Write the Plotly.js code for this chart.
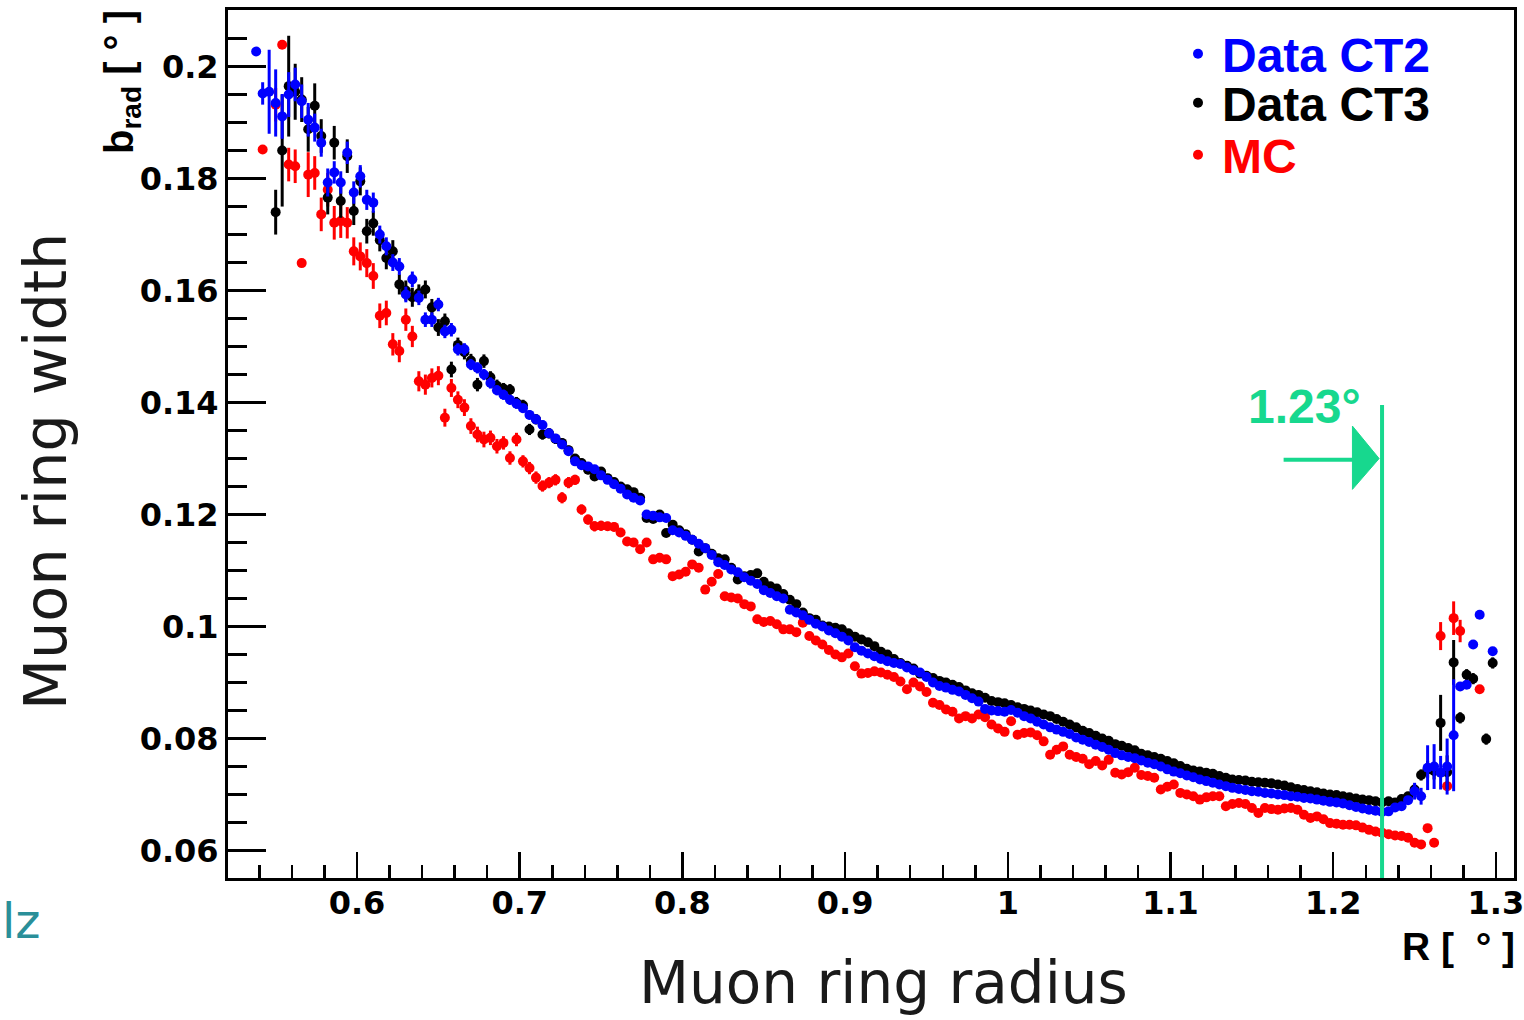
<!DOCTYPE html>
<html><head><meta charset="utf-8">
<script src="https://cdn.plot.ly/plotly-3.0.1.min.js"></script>
<style>html,body{margin:0;padding:0;background:#fff}#chart{width:1524px;height:1020px}</style>
</head><body><div id="chart"></div>
<script>
// Muon ring radius bin centres [deg]
const radius = [
0.538,0.542,0.546,0.550,0.554,0.558,0.562,0.566,0.570,0.574,
0.578,0.582,0.586,0.590,0.594,0.598,0.602,0.606,0.610,0.614,
0.618,0.622,0.626,0.630,0.634,0.638,0.642,0.646,0.650,0.654,
0.658,0.662,0.666,0.670,0.674,0.678,0.682,0.686,0.690,0.694,
0.698,0.702,0.706,0.710,0.714,0.718,0.722,0.726,0.730,0.734,
0.738,0.742,0.746,0.750,0.754,0.758,0.762,0.766,0.770,0.774,
0.778,0.782,0.786,0.790,0.794,0.798,0.802,0.806,0.810,0.814,
0.818,0.822,0.826,0.830,0.834,0.838,0.842,0.846,0.850,0.854,
0.858,0.862,0.866,0.870,0.874,0.878,0.882,0.886,0.890,0.894,
0.898,0.902,0.906,0.910,0.914,0.918,0.922,0.926,0.930,0.934,
0.938,0.942,0.946,0.950,0.954,0.958,0.962,0.966,0.970,0.974,
0.978,0.982,0.986,0.990,0.994,0.998,1.002,1.006,1.010,1.014,
1.018,1.022,1.026,1.030,1.034,1.038,1.042,1.046,1.050,1.054,
1.058,1.062,1.066,1.070,1.074,1.078,1.082,1.086,1.090,1.094,
1.098,1.102,1.106,1.110,1.114,1.118,1.122,1.126,1.130,1.134,
1.138,1.142,1.146,1.150,1.154,1.158,1.162,1.166,1.170,1.174,
1.178,1.182,1.186,1.190,1.194,1.198,1.202,1.206,1.210,1.214,
1.218,1.222,1.226,1.230,1.234,1.238,1.242,1.246,1.250,1.254,
1.258,1.262,1.266,1.270,1.274,1.278,1.282,1.286,1.290,1.294,
1.298];

// Data CT2 (blue)
const widthCT2 = [
0.2027,0.1952,0.1955,0.1935,0.1911,0.1950,0.1968,0.1938,0.1905,0.1891,
0.1864,0.1793,0.1811,0.1793,0.1846,0.1775,0.1804,0.1762,0.1757,0.1700,
0.1679,0.1650,0.1643,0.1593,0.1620,0.1587,0.1548,0.1548,0.1575,0.1527,
0.1530,0.1495,0.1495,0.1468,0.1462,0.1450,0.1435,0.1422,0.1414,0.1405,
0.1398,0.1390,0.1378,0.1370,0.1360,0.1345,0.1336,0.1325,0.1313,0.1295,
0.1288,0.1286,0.1281,0.1270,0.1262,0.1254,0.1246,0.1236,0.1230,0.1225,
0.1200,0.1198,0.1195,0.1194,0.1172,0.1168,0.1162,0.1155,0.1148,0.1140,
0.1128,0.1115,0.1110,0.1102,0.1097,0.1088,0.1082,0.1076,0.1065,0.1060,
0.1054,0.1050,0.1030,0.1025,0.1020,0.1012,0.1005,0.1000,0.0993,0.0988,
0.0982,0.0975,0.0963,0.0957,0.0952,0.0947,0.0942,0.0938,0.0935,0.0933,
0.0927,0.0922,0.0918,0.0910,0.0900,0.0894,0.0891,0.0887,0.0884,0.0878,
0.0872,0.0866,0.0853,0.0850,0.0849,0.0848,0.0851,0.0846,0.0840,0.0836,
0.0830,0.0825,0.0820,0.0816,0.0812,0.0808,0.0802,0.0798,0.0794,0.0789,
0.0785,0.0780,0.0774,0.0770,0.0767,0.0765,0.0761,0.0757,0.0754,0.0750,
0.0745,0.0741,0.0738,0.0734,0.0731,0.0727,0.0724,0.0721,0.0718,0.0715,
0.0712,0.0710,0.0708,0.0706,0.0705,0.0703,0.0702,0.0700,0.0699,0.0697,
0.0696,0.0694,0.0693,0.0691,0.0689,0.0687,0.0686,0.0684,0.0681,0.0678,
0.0675,0.0673,0.0671,0.0669,0.0670,0.0677,0.0679,0.0690,0.0706,0.0697,
0.0748,0.0750,0.0739,0.0750,0.0806,0.0893,0.0896,0.0968,0.1021,null,
0.0956];
const errCT2 = [
0,0.002,0.0075,0.006,0.004,0.004,0.003,0.003,0.003,0.0025,
0.0025,0.0025,0.002,0.002,0.002,0.002,0.002,0.0018,0.0018,0.0016,
0.0016,0.0015,0.0015,0.0014,0.0014,0.0013,0.0013,0.0013,0.0012,0.0012,
0.0012,0.0011,0.0011,0.001,0.001,0.001,0.001,0.0009,0.0009,0.0009,
0.0009,0.0008,0.0008,0.0008,0.0008,0.0008,0.0007,0.0007,0.0007,0.0007,
0.0007,0.0007,0.0006,0.0006,0.0006,0.0006,0.0006,0.0006,0.0006,0.0006,
0.0006,0.0005,0.0005,0.0005,0.0005,0.0005,0.0005,0.0005,0.0005,0.0005,
0.0005,0.0005,0.0005,0.0005,0.0005,0.0005,0.0005,0.0005,0.0005,0.0005,
0.0005,0.0005,0.0004,0.0004,0.0004,0.0004,0.0004,0.0004,0.0004,0.0004,
0.0004,0.0004,0.0004,0.0004,0.0004,0.0004,0.0004,0.0004,0.0004,0.0004,
0.0004,0.0004,0.0004,0.0004,0.0004,0.0004,0.0004,0.0004,0.0004,0.0004,
0.0003,0.0003,0.0003,0.0003,0.0003,0.0003,0.0003,0.0003,0.0003,0.0003,
0.0003,0.0003,0.0003,0.0003,0.0003,0.0003,0.0003,0.0003,0.0003,0.0003,
0.0003,0.0003,0.0003,0.0003,0.0003,0.0003,0.0003,0.0003,0.0003,0.0003,
0.0003,0.0003,0.0003,0.0003,0.0003,0.0003,0.0003,0.0003,0.0003,0.0003,
0.0003,0.0003,0.0003,0.0003,0.0003,0.0003,0.0003,0.0003,0.0003,0.0003,
0.0003,0.0003,0.0003,0.0003,0.0003,0.0003,0.0003,0.0003,0.0003,0.0003,
0.0003,0.0003,0.0003,0.0003,0.0003,0.0004,0.0004,0.0005,0.0015,0.0015,
0.004,0.004,0.003,0.005,0.010,0,0,0,0,null,
0];

// Data CT3 (black)
const widthCT3 = [
null,null,null,0.1740,0.1850,0.1965,0.1955,0.1941,0.1888,0.1930,
0.1876,0.1766,0.1864,0.1760,0.1840,0.1742,0.1795,0.1706,0.1720,0.1690,
0.1658,0.1670,0.1611,0.1600,0.1588,0.1595,0.1602,0.1570,0.1534,0.1545,
0.1459,0.1503,0.1490,0.1475,0.1432,0.1474,0.1445,0.1430,0.1425,0.1423,
0.1400,0.1395,0.1352,0.1370,0.1343,0.1345,0.1335,0.1328,0.1315,0.1300,
0.1292,0.1280,0.1268,0.1277,0.1265,0.1258,0.1250,0.1245,0.1240,0.1230,
0.1194,0.1192,0.1200,0.1167,0.1182,0.1172,0.1165,0.1155,0.1134,0.1140,
0.1130,0.1122,0.1120,0.1105,0.1084,0.1090,0.1092,0.1095,0.1080,0.1072,
0.1068,0.1058,0.1048,0.1040,0.1025,0.1015,0.1012,0.1002,0.1000,0.0998,
0.0995,0.0988,0.0982,0.0977,0.0972,0.0965,0.0955,0.0950,0.0942,0.0935,
0.0930,0.0925,0.0916,0.0912,0.0908,0.0903,0.0900,0.0896,0.0892,0.0886,
0.0881,0.0878,0.0873,0.0867,0.0865,0.0863,0.0860,0.0856,0.0853,0.0850,
0.0847,0.0843,0.0840,0.0835,0.0830,0.0825,0.0820,0.0814,0.0810,0.0805,
0.0800,0.0796,0.0790,0.0787,0.0783,0.0779,0.0773,0.0770,0.0767,0.0764,
0.0760,0.0756,0.0751,0.0746,0.0743,0.0741,0.0739,0.0737,0.0733,0.0730,
0.0727,0.0726,0.0725,0.0723,0.0722,0.0721,0.0720,0.0718,0.0716,0.0713,
0.0710,0.0708,0.0706,0.0704,0.0702,0.0700,0.0699,0.0697,0.0695,0.0693,
0.0691,0.0690,0.0688,0.0686,0.0688,0.0686,0.0692,0.0697,0.0709,0.0735,
0.0745,0.0742,0.0828,0.0740,0.0936,0.0837,0.0914,0.0907,null,0.0799,
0.0935];
const errCT3 = [
null,null,null,0.004,0.010,0.009,0.005,0.004,0.004,0.004,
0.003,0.003,0.003,0.003,0.003,0.0025,0.0025,0.0022,0.0022,0.002,
0.002,0.002,0.0018,0.0018,0.0017,0.0016,0.0016,0.0015,0.0015,0.0014,
0.0014,0.0013,0.0013,0.0012,0.0012,0.0012,0.0011,0.0011,0.001,0.001,
0.001,0.001,0.001,0.0009,0.0009,0.0009,0.0009,0.0008,0.0008,0.0008,
0.0008,0.0008,0.0008,0.0007,0.0007,0.0007,0.0007,0.0007,0.0007,0.0007,
0.0007,0.0006,0.0006,0.0006,0.0006,0.0006,0.0006,0.0006,0.0006,0.0006,
0.0006,0.0006,0.0005,0.0005,0.0005,0.0005,0.0005,0.0005,0.0005,0.0005,
0.0005,0.0005,0.0005,0.0005,0.0005,0.0005,0.0005,0.0005,0.0005,0.0005,
0.0004,0.0004,0.0004,0.0004,0.0004,0.0004,0.0004,0.0004,0.0004,0.0004,
0.0004,0.0004,0.0004,0.0004,0.0004,0.0004,0.0004,0.0004,0.0004,0.0004,
0.0004,0.0004,0.0004,0.0004,0.0004,0.0004,0.0004,0.0004,0.0004,0.0004,
0.0003,0.0003,0.0003,0.0003,0.0003,0.0003,0.0003,0.0003,0.0003,0.0003,
0.0003,0.0003,0.0003,0.0003,0.0003,0.0003,0.0003,0.0003,0.0003,0.0003,
0.0003,0.0003,0.0003,0.0003,0.0003,0.0003,0.0003,0.0003,0.0003,0.0003,
0.0003,0.0003,0.0003,0.0003,0.0003,0.0003,0.0003,0.0003,0.0003,0.0003,
0.0003,0.0003,0.0003,0.0003,0.0003,0.0003,0.0003,0.0003,0.0003,0.0003,
0.0003,0.0003,0.0003,0.0003,0.0004,0.0004,0.0005,0.0006,0.0008,0.001,
0.0015,0.0015,0.005,0.003,0.004,0.001,0.001,0.001,null,0.001,
0.001];

// MC (red)
const widthMC = [
null,0.1852,null,0.1932,0.2039,0.1825,0.1822,0.1649,0.1807,0.1810,
0.1736,0.1780,0.1721,0.1724,0.1721,0.1670,0.1661,0.1649,0.1626,0.1555,
0.1560,0.1504,0.1492,0.1548,0.1518,0.1438,0.1432,0.1444,0.1448,0.1373,
0.1426,0.1405,0.1391,0.1358,0.1343,0.1334,0.1337,0.1322,0.1328,0.1301,
0.1334,0.1295,0.1283,0.1266,0.1251,0.1257,0.1262,0.1230,0.1257,0.1262,
0.1209,0.1191,0.1179,0.1180,0.1179,0.1178,0.1168,0.1152,0.1150,0.1138,
0.1150,0.1120,0.1123,0.1120,0.1090,0.1093,0.1098,0.1111,0.1105,0.1066,
0.1080,0.1094,0.1054,0.1052,0.1050,0.1040,0.1036,0.1013,0.1008,0.1010,
0.1004,0.0995,0.0995,0.0990,0.1007,0.0983,0.0975,0.0968,0.0958,0.0950,
0.0945,0.0952,0.0929,0.0916,0.0917,0.0920,0.0918,0.0914,0.0910,0.0902,
0.0888,0.0900,0.0893,0.0883,0.0864,0.0860,0.0852,0.0848,0.0836,0.0840,
0.0836,0.0843,0.0838,0.0825,0.0818,0.0812,0.0831,0.0807,0.0810,0.0811,
0.0806,0.0795,0.0771,0.0780,0.0786,0.0771,0.0767,0.0764,0.0754,0.0760,
0.0752,0.0762,0.0739,0.0736,0.0740,0.0748,0.0735,0.0733,0.0730,0.0709,
0.0714,0.0718,0.0703,0.0700,0.0697,0.0691,0.0695,0.0697,0.0697,0.0679,
0.0683,0.0685,0.0683,0.0676,0.0667,0.0676,0.0674,0.0673,0.0675,0.0676,
0.0673,0.0664,0.0658,0.0661,0.0656,0.0649,0.0648,0.0646,0.0646,0.0645,
0.0641,0.0637,0.0634,0.0632,0.0629,0.0627,0.0626,0.0623,0.0614,0.0611,
0.0640,0.0614,0.0983,0.0715,0.1015,0.0992,null,null,0.0888,null,
null];
const errMC = [
null,0,null,0.003,0,0.003,0.003,0,0.004,0.003,
0.003,0.003,0.003,0.003,0.0028,0.0025,0.0025,0.0025,0.0023,0.0022,
0.0022,0.002,0.002,0.002,0.0019,0.0018,0.0018,0.0017,0.0017,0.0016,
0.0016,0.0015,0.0015,0.0014,0.0014,0.0014,0.0013,0.0013,0.0012,0.0012,
0.0012,0.0011,0.0011,0.0011,0.001,0.001,0.001,0.001,0.001,0.0009,
0.0009,0.0009,0.0009,0.0009,0.0008,0.0008,0.0008,0.0008,0.0008,0.0008,
0.0008,0.0008,0.0008,0.0007,0.0007,0.0007,0.0007,0.0007,0.0007,0.0007,
0.0007,0.0007,0.0007,0.0006,0.0006,0.0006,0.0006,0.0006,0.0006,0.0006,
0.0006,0.0006,0.0006,0.0006,0.0006,0.0005,0.0005,0.0005,0.0005,0.0005,
0.0005,0.0005,0.0005,0.0005,0.0005,0.0005,0.0005,0.0005,0.0005,0.0005,
0.0005,0.0005,0.0005,0.0005,0.0005,0.0004,0.0004,0.0004,0.0004,0.0004,
0.0004,0.0004,0.0004,0.0004,0.0004,0.0004,0.0004,0.0004,0.0004,0.0004,
0.0004,0.0004,0.0004,0.0004,0.0004,0.0004,0.0004,0.0004,0.0004,0.0004,
0.0004,0.0004,0.0004,0.0004,0.0004,0.0004,0.0004,0.0004,0.0004,0.0004,
0.0004,0.0004,0.0004,0.0004,0.0004,0.0004,0.0004,0.0004,0.0004,0.0004,
0.0004,0.0004,0.0004,0.0004,0.0004,0.0004,0.0004,0.0004,0.0004,0.0004,
0.0004,0.0004,0.0004,0.0004,0.0004,0.0004,0.0004,0.0004,0.0004,0.0004,
0.0004,0.0004,0.0004,0.0004,0.0004,0.0004,0.0004,0.0004,0.0005,0.0005,
0.0005,0.0005,0.0025,0.0005,0.003,0.002,null,null,0,null,
null];

const seriesNames = ['Data CT2','Data CT3','MC'];
const seriesColors = ['#0000ff','#000000','#ff0000'];
const cutRadius = 1.23;
const cutLabel = '1.23°';

const GREEN = '#17d88e';
const NB = '\u00a0';
const TICKFONT = {family:'DejaVu Sans, sans-serif', size:32, weight:'bold', color:'#000'};
const ROOTFONT = 'Liberation Sans, Arial, sans-serif';
const TITLEFONT = {family:'DejaVu Sans, sans-serif', size:58, color:'#1a1a1a'};

function mk(name, y, err, color, legendId){
  return {
    type:'scatter', mode:'markers', name:'<span style="color:'+color+'">'+name+'</span>',
    x:radius, y:y, legend:legendId,
    marker:{color:color, size:10},
    error_y:{type:'data', array:err, visible:true, thickness:3, width:0, color:color},
    hoverinfo:'skip', cliponaxis:true
  };
}
const traces = [
  mk(seriesNames[2], widthMC, errMC, seriesColors[2], 'legend3'),
  mk(seriesNames[1], widthCT3, errCT3, seriesColors[1], 'legend2'),
  mk(seriesNames[0], widthCT2, errCT2, seriesColors[0], 'legend')
];

// plot frame in pixels: left 228, right 1514, top 10, bottom 878
const L=228, R=1514, T=10, B=878;
const px = v => (v-L)/(R-L);
const py = v => (B-v)/(B-T);
function leg(yc){
  return {x:px(1174), y:py(yc), xanchor:'left', yanchor:'middle', bgcolor:'rgba(0,0,0,0)', borderwidth:0,
          font:{family:ROOTFONT, size:48, weight:'bold', color:'#000'}, itemwidth:38};
}

const layout = {
  width:1524, height:1020,
  margin:{l:L, r:1524-R, t:T, b:1020-B, pad:0},
  paper_bgcolor:'#ffffff', plot_bgcolor:'#ffffff',
  showlegend:true,
  legend:leg(54), legend2:leg(103), legend3:leg(155),
  xaxis:{
    range:[0.5207,1.3111], showline:true, linewidth:3, linecolor:'#000', mirror:true,
    ticks:'inside', ticklen:26, tickwidth:2.5, tickcolor:'#000', tick0:0, dtick:0.1,
    minor:{ticks:'inside', ticklen:13, tickwidth:2.5, tickcolor:'#000', dtick:0.02, showgrid:false},
    showgrid:false, zeroline:false, tickfont:TICKFONT, ticklabeloverflow:'allow', ticklabelstandoff:-5
  },
  yaxis:{
    range:[0.0551,0.2101], showline:true, linewidth:3, linecolor:'#000', mirror:true,
    ticks:'inside', ticklen:38, tickwidth:2.5, tickcolor:'#000', tick0:0, dtick:0.02,
    minor:{ticks:'inside', ticklen:19, tickwidth:2.5, tickcolor:'#000', dtick:0.005, showgrid:false},
    showgrid:false, zeroline:false, tickfont:TICKFONT, ticklabeloverflow:'allow'
  },
  shapes:[
    {type:'line', xref:'x', yref:'paper', x0:cutRadius, x1:cutRadius, y0:0, y1:py(405), line:{color:GREEN, width:4}},
    {type:'line', xref:'x', yref:'y', x0:1.1695, x1:1.214, y0:0.1298, y1:0.1298, line:{color:GREEN, width:4}},
    {type:'path', xref:'x', yref:'y', path:'M 1.2118 0.1358 L 1.2282 0.1300 L 1.2118 0.1245 Z', fillcolor:GREEN, line:{color:GREEN, width:1}}
  ],
  annotations:[
    {xref:'paper', yref:'paper', x:px(122), y:py(8), xanchor:'center', yanchor:'top', textangle:-90, showarrow:false,
     text:'<b>b<sub>rad</sub> [ ° ]</b>', font:{family:ROOTFONT, size:40, color:'#000'}},
    {xref:'paper', yref:'paper', x:px(45), y:py(472), xanchor:'center', yanchor:'middle', textangle:-90, showarrow:false,
     text:'Muon ring width', font:{family:'DejaVu Sans, sans-serif', size:59, color:'#1a1a1a'}},
    {xref:'paper', yref:'paper', x:px(883), y:py(983), xanchor:'center', yanchor:'middle', showarrow:false,
     text:'Muon ring radius', font:TITLEFONT},
    {xref:'paper', yref:'paper', x:px(1517), y:py(946), xanchor:'right', yanchor:'middle', showarrow:false,
     text:'<b>R'+NB+'['+NB+NB+'°'+NB+']</b>', font:{family:ROOTFONT, size:39, color:'#000'}},
    {xref:'paper', yref:'paper', x:px(1304), y:py(406), xanchor:'center', yanchor:'middle', showarrow:false,
     text:'<b>'+cutLabel+'</b>', font:{family:ROOTFONT, size:48, color:GREEN}},
    {xref:'paper', yref:'paper', x:px(0), y:py(921), xanchor:'left', yanchor:'middle', showarrow:false,
     text:'lz', font:{family:'DejaVu Sans, sans-serif', size:48, color:'#2a8f99'}}
  ]
};

Plotly.newPlot('chart', traces, layout, {displayModeBar:false, staticPlot:true});
</script>
</body></html>
